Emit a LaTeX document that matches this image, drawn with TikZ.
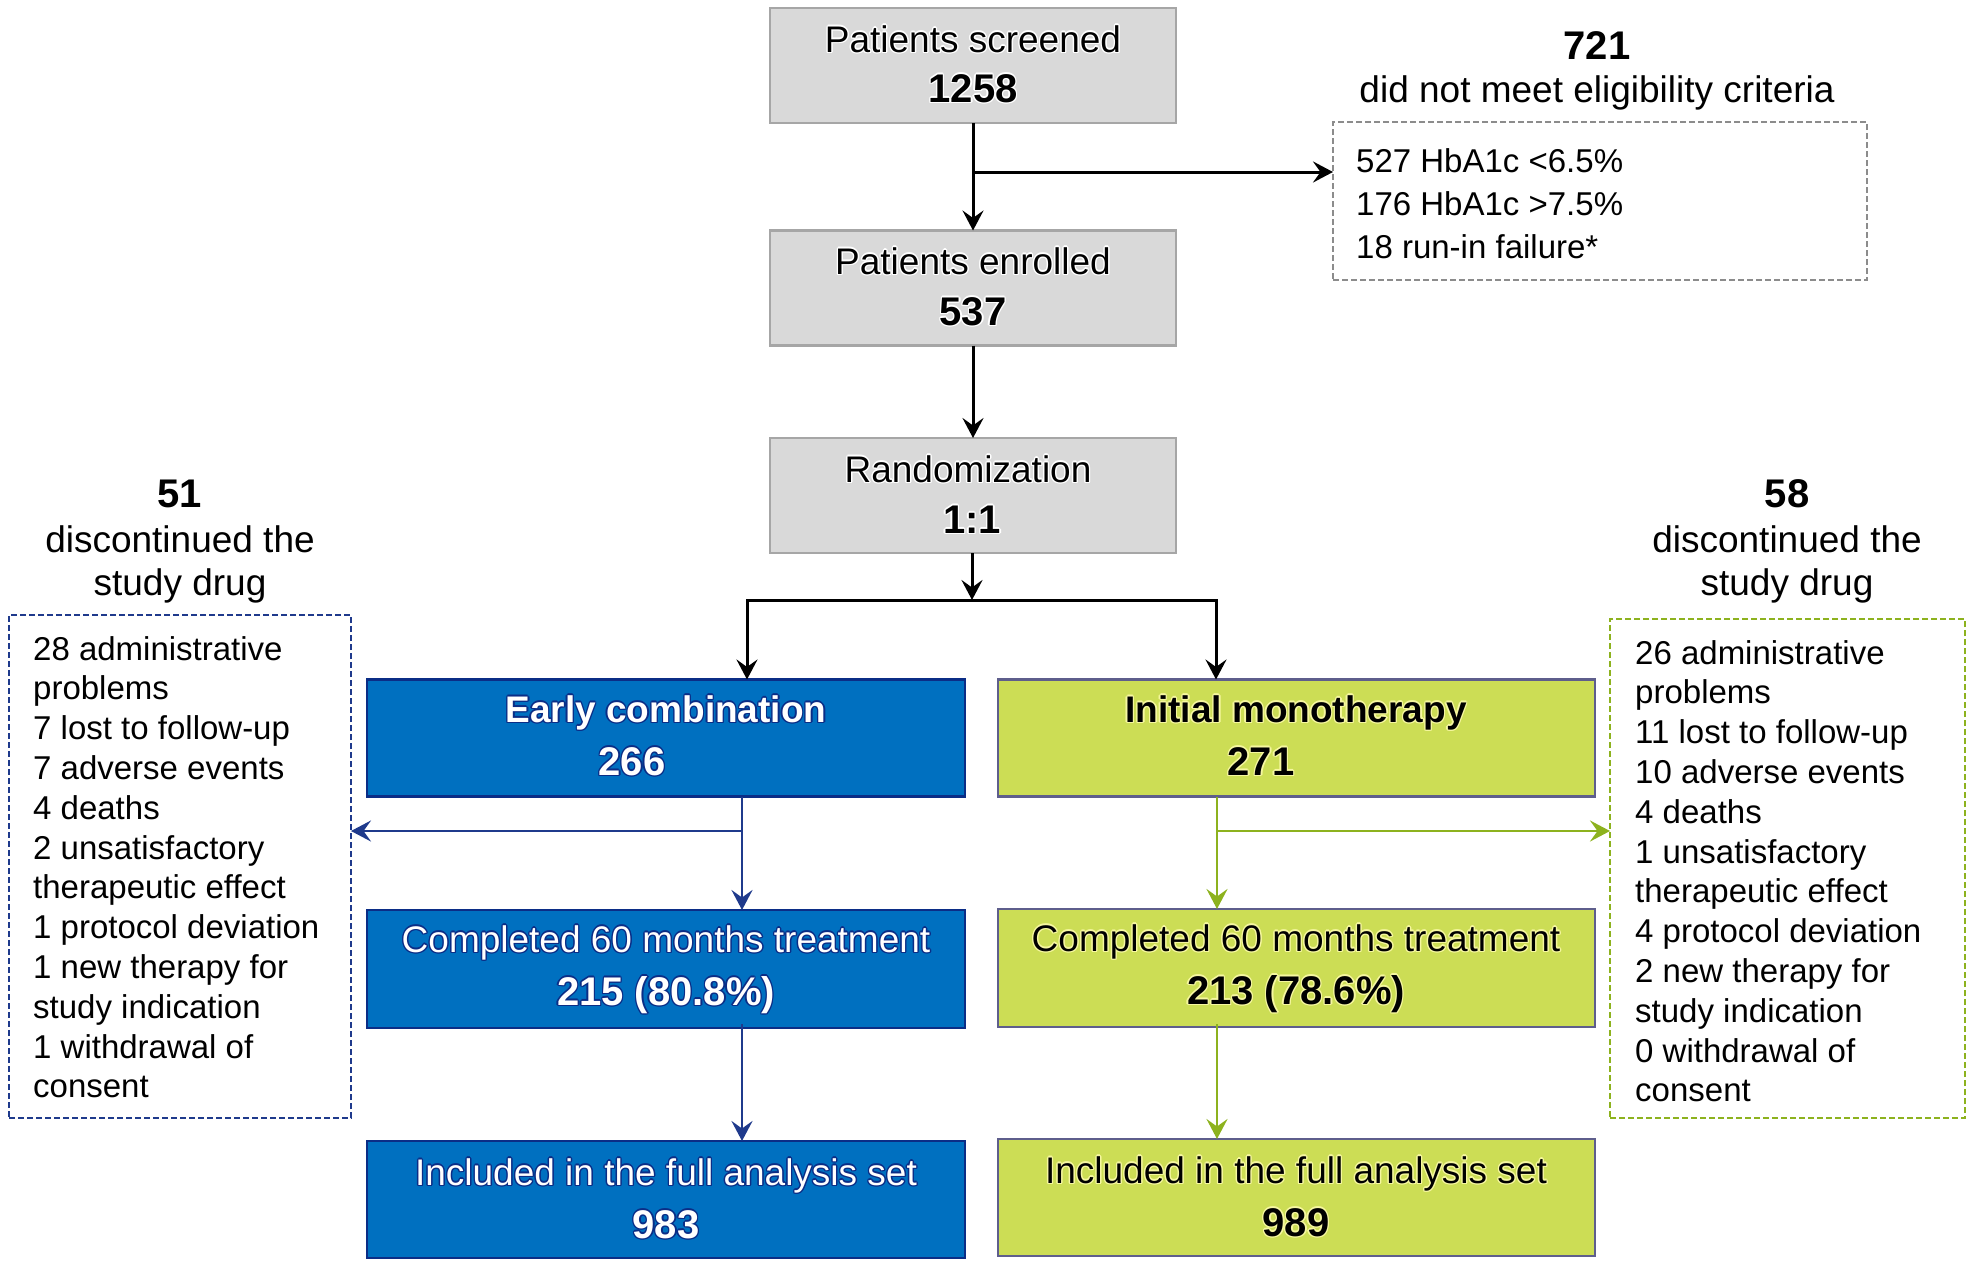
\documentclass[tikz,border=0pt]{standalone}
\usepackage{fontspec}
\setmainfont{Liberation Sans}
\usetikzlibrary{arrows.meta}
\definecolor{gfill}{HTML}{D9D9D9}
\definecolor{gline}{HTML}{A6A6A6}
\definecolor{bfill}{HTML}{0070C0}
\definecolor{bline}{HTML}{0B2D86}
\definecolor{lfill}{HTML}{CCDD55}
\definecolor{lline}{HTML}{5E5E8C}
\definecolor{barrow}{HTML}{1F3A8C}
\definecolor{larrow}{HTML}{8DB21E}
\definecolor{dgray}{HTML}{8C8C8C}
\definecolor{yglow}{HTML}{F6F7A0}
\newcommand\halo[2]{\leavevmode
 \rlap{\textcolor{#1}{\kern 1.4pt#2}}%
 \rlap{\textcolor{#1}{\kern-1.4pt#2}}%
 \rlap{\textcolor{#1}{\raisebox{1.4pt}{#2}}}%
 \rlap{\textcolor{#1}{\raisebox{-1.4pt}{#2}}}%
 \rlap{\textcolor{#1}{\kern 1pt\raisebox{1pt}{#2}}}%
 \rlap{\textcolor{#1}{\kern-1pt\raisebox{1pt}{#2}}}%
 \rlap{\textcolor{#1}{\kern 1pt\raisebox{-1pt}{#2}}}%
 \rlap{\textcolor{#1}{\kern-1pt\raisebox{-1pt}{#2}}}%
 #2}
\begin{document}
\begin{tikzpicture}[x=1pt,y=-1pt,
  box/.style={draw, line width=2.5pt, inner sep=0pt, outer sep=0pt},
  graybox/.style={box, fill=gfill, draw=gline, minimum width=406pt, minimum height=115pt},
  bluebox/.style={box, fill=bfill, draw=bline, minimum width=598pt, minimum height=117pt},
  limebox/.style={box, fill=lfill, draw=lline, minimum width=597pt, minimum height=117pt},
  dbox/.style={draw, dashed, dash pattern=on 6pt off 3pt, line width=2.6pt, inner sep=0pt, outer sep=0pt},
  txt/.style={anchor=base, inner sep=0pt, font=\fontsize{37}{44}\selectfont},
  btxt/.style={anchor=base, inner sep=0pt, font=\fontsize{37}{44}\selectfont\bfseries},
  num/.style={anchor=base, inner sep=0pt, font=\fontsize{40}{48}\selectfont\bfseries},
  lst/.style={anchor=base west, inner sep=0pt, font=\fontsize{33}{40}\selectfont},
  tip/.style={-{Stealth[length=20pt,width=21pt,inset=7.5pt]}},
  karr/.style={tip, line width=3pt, black},
  barr/.style={tip, line width=2.8pt, barrow},
  larr/.style={tip, line width=2.8pt, larrow}
]
\useasboundingbox (0,0) rectangle (1972,1266);

% gray boxes
\node[graybox] (scr) at (973,65.5) {};
\node[txt] (scrA) at (973,52) {\halo{white}{Patients screened}};
\node[num] (scrB) at (973,102) {\halo{white}{1258}};

\node[graybox] (enr) at (973,288) {};
\node[txt] (enrA) at (973,274) {\halo{white}{Patients enrolled}};
\node[num] (enrB) at (973,325) {\halo{white}{537}};

\node[graybox] (rnd) at (973,495.5) {};
\node[txt] (rndA) at (968,482) {\halo{white}{Randomization}};
\node[num] (rndB) at (972,533) {\halo{white}{1:1}};

% eligibility
\node[num] (eligN) at (1597,59) {721};
\node[txt] (eligT) at (1597,102) {did not meet eligibility criteria};
\node[dbox, draw=dgray, minimum width=534pt, minimum height=158pt] (elig) at (1600,201) {};
\node[lst] (e1) at (1356,172) {527 HbA1c <6.5\%};
\node[lst] (e2) at (1356,215) {176 HbA1c >7.5\%};
\node[lst] (e3) at (1356,258) {18 run-in failure*};

% arms
\node[bluebox] (early) at (666,738) {};
\node[btxt, white] (earlyA) at (666,722) {\halo{bline}{Early combination}};
\node[num, white] (earlyB) at (632,775) {\halo{bline}{266}};

\node[limebox] (mono) at (1296.5,738) {};
\node[btxt] (monoA) at (1296,722) {\halo{yglow}{Initial monotherapy}};
\node[num] (monoB) at (1261,775) {\halo{yglow}{271}};

\node[bluebox, minimum height=118pt] (compB) at (666,969) {};
\node[txt, white] (compBA) at (666,952) {\halo{bline}{Completed 60 months treatment}};
\node[num, white] (compBB) at (666,1005) {\halo{bline}{215 (80.8\%)}};

\node[limebox, minimum height=118pt] (compL) at (1296.5,968) {};
\node[txt] (compLA) at (1296,951) {\halo{yglow}{Completed 60 months treatment}};
\node[num] (compLB) at (1296,1004) {\halo{yglow}{213 (78.6\%)}};

\node[bluebox] (inclB) at (666,1199.5) {};
\node[txt, white] (inclBA) at (666,1185) {\halo{bline}{Included in the full analysis set}};
\node[num, white] (inclBB) at (666,1238) {\halo{bline}{983}};

\node[limebox] (inclL) at (1296.5,1197.5) {};
\node[txt] (inclLA) at (1296,1183) {\halo{yglow}{Included in the full analysis set}};
\node[num] (inclLB) at (1296,1236) {\halo{yglow}{989}};

% discontinued headings
\node[num] (dL) at (180,507) {51};
\node[txt] (dLa) at (180,552) {discontinued the};
\node[txt] (dLb) at (180,595) {study drug};
\node[num] (dR) at (1787,507) {58};
\node[txt] (dRa) at (1787,552) {discontinued the};
\node[txt] (dRb) at (1787,595) {study drug};

% discontinued boxes
\node[dbox, draw=barrow, minimum width=342pt, minimum height=503pt] (Lbox) at (180,866.5) {};
\node[dbox, draw=larrow, minimum width=355pt, minimum height=499pt] (Rbox) at (1787.5,868.5) {};

\foreach \t [count=\i] in {28 administrative, problems, 7 lost to follow-up, 7 adverse events, 4 deaths, 2 unsatisfactory, therapeutic effect, 1 protocol deviation, 1 new therapy for, study indication, 1 withdrawal of, consent}
  {\node[lst] (L\i) at (33,{660+39.8*(\i-1)}) {\t};}
\foreach \t [count=\i] in {26 administrative, problems, 11 lost to follow-up, 10 adverse events, 4 deaths, 1 unsatisfactory, therapeutic effect, 4 protocol deviation, 2 new therapy for, study indication, 0 withdrawal of, consent}
  {\node[lst] (R\i) at (1635,{664+39.8*(\i-1)}) {\t};}

% black connectors
\coordinate (j1) at (973,172);
\draw[karr] (scr.south) -- (enr.north);
\draw[karr] (j1) -- (j1 -| elig.west);
\draw[karr] (enr.south) -- (rnd.north);
\coordinate (rmid) at (972,600);
\coordinate (rL) at (747,600);
\coordinate (rR) at (1216,600);
\draw[karr] (rnd.south -| rmid) -- (rmid);
\draw[karr, {Stealth[length=20pt,width=21pt,inset=7.5pt]}-{Stealth[length=20pt,width=21pt,inset=7.5pt]}, line join=miter]
  (rL |- early.north) -- (rL) -- (rR) -- (rR |- mono.north);

% blue connectors
\coordinate (bj) at (742,831);
\draw[barr] (early.south -| bj) -- (bj |- compB.north);
\draw[barr] (bj) -- (bj -| Lbox.east);
\draw[barr] ([yshift=4pt]compB.south -| bj) -- (bj |- inclB.north);

% lime connectors
\coordinate (lj) at (1217,831);
\draw[larr] (mono.south -| lj) -- (lj |- compL.north);
\draw[larr] (lj) -- (lj -| Rbox.west);
\draw[larr] ([yshift=3pt]compL.south -| lj) -- (lj |- inclL.north);
\end{tikzpicture}
\end{document}
